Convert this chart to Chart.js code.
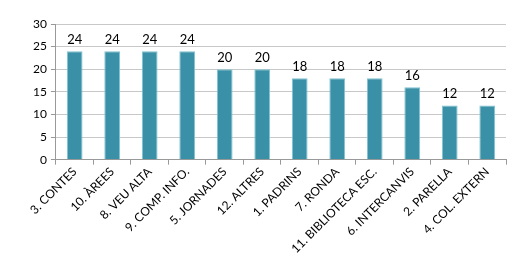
<!DOCTYPE html>
<html>
<head>
  <script src="https://cdn.jsdelivr.net/npm/chart.js@4/dist/chart.umd.min.js"></script>
  <style>
    body { margin: 0; background: #fff; }
  </style>
</head>
<body>
  <div style="position: relative; width:520px; height:262px">
    <canvas id="myChart" width="520" height="262"></canvas>
  </div>
  <script type="text/javascript">
    var categories = ['3. CONTES', '10. ÀREES', '8. VEU ALTA', '9. COMP. INFO.', '5. JORNADES', '12. ALTRES',
      '1. PADRINS', '7. RONDA', '11. BIBLIOTECA ESC.', '6. INTERCANVIS', '2. PARELLA', '4. COL. EXTERN'];
    var values = [24, 24, 24, 24, 20, 20, 18, 18, 18, 16, 12, 12];
    var yTicks = [0, 5, 10, 15, 20, 25, 30];

    // value labels above bars
    var barLabels = {
      id: 'barLabels',
      afterDatasetsDraw: function(chart) {
        var ctx = chart.ctx;
        var meta = chart.getDatasetMeta(0);
        ctx.save();
        ctx.font = '13px Lato, sans-serif';
        ctx.fillStyle = '#000';
        ctx.textAlign = 'center';
        ctx.textBaseline = 'bottom';
        meta.data.forEach(function(bar, i) {
          ctx.fillText(values[i], bar.x, bar.y - 5);
        });
        ctx.restore();
      }
    };

    var ctx = document.getElementById('myChart').getContext('2d');
    var chart = new Chart(ctx, {
      type: 'bar',
      data: {
        labels: categories,
        datasets: [{
          data: values,
          backgroundColor: '#3A90A6',
          borderColor: '#7FC3D3',
          borderWidth: 1,
          barPercentage: 0.42,
          categoryPercentage: 1
        }]
      },
      options: {
        responsive: false,
        animation: false,
        layout: { padding: { left: 29, right: 14, top: 24, bottom: 6 } },
        plugins: { legend: { display: false }, tooltip: { enabled: false } },
        scales: {
          x: {
            offset: true,
            grid: { offset: true, drawOnChartArea: false, color: '#999', tickLength: 5 },
            border: { color: '#999' },
            ticks: {
              color: '#000',
              font: { family: 'Lato, sans-serif', size: 12 },
              maxRotation: 45, minRotation: 45, padding: 0
            }
          },
          y: {
            min: 0, max: 30,
            afterBuildTicks: function(axis) { axis.ticks = yTicks.map(function(v) { return { value: v }; }); },
            grid: { color: '#C8C8C8', tickLength: 5, tickColor: '#999' },
            border: { color: '#999' },
            ticks: { color: '#000', font: { family: 'Lato, sans-serif', size: 12 }, padding: 4 }
          }
        }
      },
      plugins: [barLabels]
    });
  </script>
</body>
</html>
